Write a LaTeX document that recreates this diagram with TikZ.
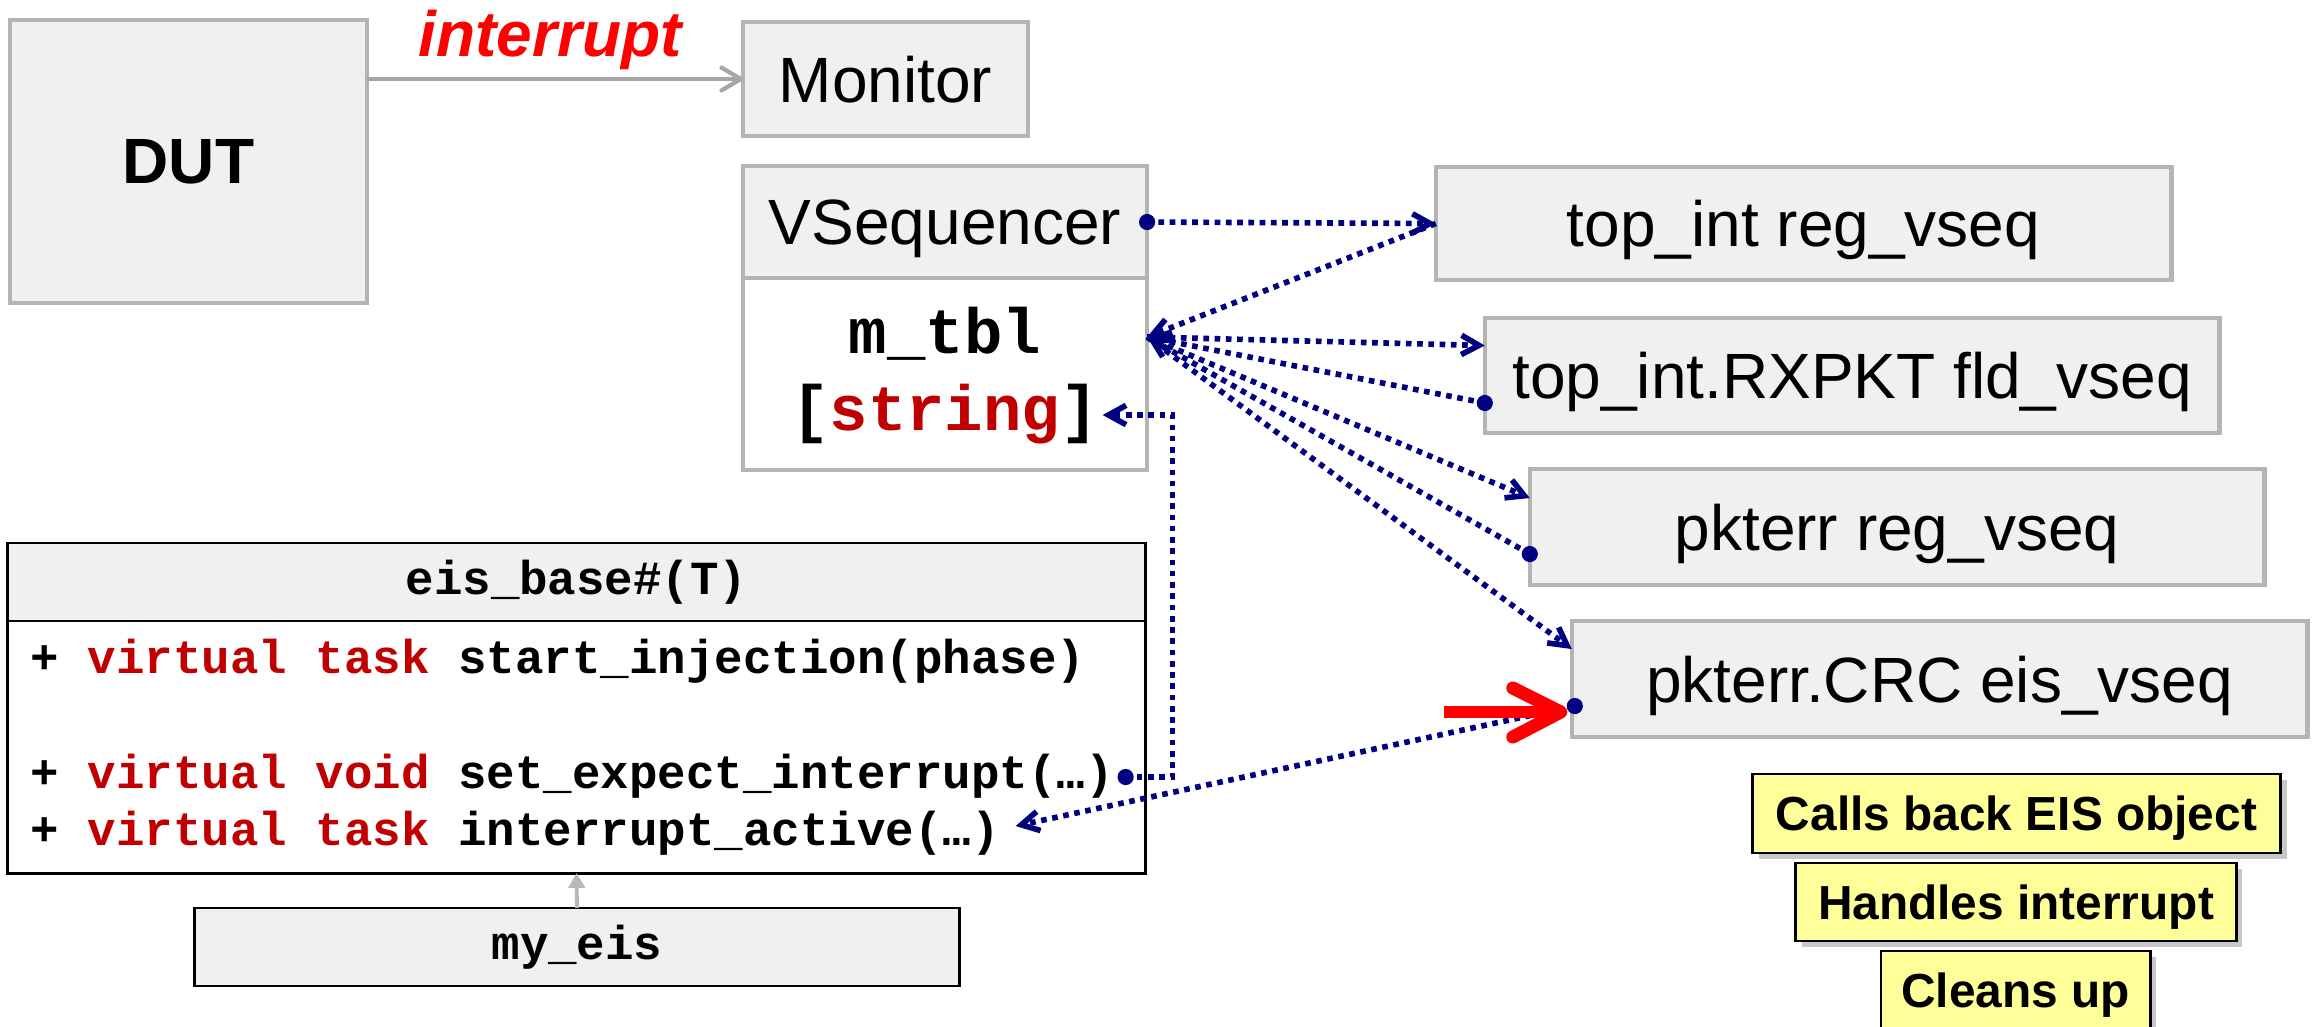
\documentclass[tikz,border=0pt]{standalone}
\usepackage{fontspec}
\setmainfont{Liberation Sans}
\setmonofont{Liberation Mono}
\usetikzlibrary{arrows.meta,calc,shadows}

\definecolor{boxgray}{HTML}{B4B4B4}
\definecolor{boxfill}{HTML}{F0F0F0}
\definecolor{linknavy}{HTML}{000080}
\definecolor{kwred}{HTML}{C00000}
\definecolor{notefill}{HTML}{FFFF99}
\definecolor{wiregray}{HTML}{A6A6A6}
\definecolor{inhgray}{HTML}{B8B8B8}

\newcommand{\kw}[1]{\textcolor{kwred}{#1}}
\newcommand{\lblsize}{\fontsize{18.2}{22}\selectfont}
\newcommand{\codesize}{\fontsize{13.5}{16}\selectfont}
\newcommand{\notesize}{\fontsize{13.6}{16}\selectfont}

\begin{document}
\begin{tikzpicture}[x=0.01cm, y=-0.01cm,
  every node/.style={inner sep=0pt, outer sep=0pt},
  block/.style={draw=boxgray, line width=1.3pt, fill=boxfill, font=\lblsize, text depth=0pt},
  uml/.style={draw=black, line width=0.8pt},
  code/.style={font=\ttfamily\bfseries\codesize, anchor=base west},
  note/.style={draw=black, line width=0.8pt, fill=notefill, font=\bfseries\notesize, text depth=0pt,
    drop shadow={shadow xshift=1.8pt, shadow yshift=-1.8pt, fill=black, opacity=0.22}},
  link/.style={linknavy, line width=1.6pt, dash pattern=on 1.6pt off 1.6pt,
    -{Straight Barb[length=5pt,width=5.5pt]}},
  navydot/.style={fill=linknavy}
]
\useasboundingbox (0,0) rectangle (2312,1026);

% design under test and the monitor it signals
\node[block, minimum width=3.57cm, minimum height=2.83cm, font=\bfseries\lblsize] (dut) at (188.5,161.5) {DUT};
\node[block, minimum width=2.85cm, minimum height=1.14cm] (monitor) at (885.5,79) {Monitor};
\node[font=\bfseries\itshape\lblsize, text=red, anchor=base] (irqlabel) at (550,56) {interrupt};
\draw[wiregray, line width=1.2pt, -{Straight Barb[length=5.5pt,width=6.5pt,round]}]
  (dut.east |- monitor.west) -- (monitor.west);

% virtual sequencer with its lookup table
\node[block, minimum width=4.04cm, minimum height=1.12cm] (vhead) at (945,222) {VSequencer};
\node[block, fill=white, minimum width=4.04cm, minimum height=1.92cm] (vbody) at (945,374) {};
\node[font=\ttfamily\bfseries\lblsize, anchor=base] (tblname) at (945,353) {m\_tbl};
\node[font=\ttfamily\bfseries\lblsize, anchor=base] (tblkey) at (945,430) {[\kw{string}]};

% registered sequences
\node[block, minimum width=7.35cm, minimum height=1.13cm] (regtop) at (1803.5,223.5) {top\_int reg\_vseq};
\node[block, minimum width=7.34cm, minimum height=1.15cm] (fldrx) at (1852,375.5) {top\_int.RXPKT fld\_vseq};
\node[block, minimum width=7.34cm, minimum height=1.16cm] (regpkt) at (1897,527) {pkterr reg\_vseq};
\node[block, minimum width=7.35cm, minimum height=1.16cm] (eiscrc) at (1939.5,679) {pkterr.CRC eis\_vseq};

% EIS base class and its subclass
\node[uml, fill=boxfill, minimum width=11.37cm, minimum height=0.78cm, font=\ttfamily\bfseries\codesize] (uhead) at (576.5,582) {eis\_base\#(T)};
\node[uml, fill=white, minimum width=11.37cm, minimum height=2.52cm] (ubody) at (576.5,747) {};
\node[code] (ln1) at (31,673) {+ \kw{virtual task} start\_injection(phase)};
\node[code] (ln2) at (31,788) {+ \kw{virtual void} set\_expect\_interrupt(…)};
\node[code] (ln3) at (31,845) {+ \kw{virtual task} interrupt\_active(…)};
\node[uml, fill=boxfill, minimum width=7.64cm, minimum height=0.78cm, font=\ttfamily\bfseries\codesize] (myeis) at (577,947) {my\_eis};
\draw[inhgray, line width=1.1pt, -{Triangle[length=4.2pt,width=4.6pt]}] (myeis.north) -- (ubody.south);

% callback steps
\node[note, minimum width=5.27cm, minimum height=0.79cm] (step1) at (2016.5,813.5) {Calls back EIS object};
\node[note, minimum width=4.40cm, minimum height=0.78cm] (step2) at (2016,902) {Handles interrupt};
\node[note, minimum width=2.69cm, minimum height=0.78cm] (step3) at (2015.5,990) {Cleans up};

% connection points
\coordinate (tblR) at ($(vbody.east)+(0,-37)$);
\coordinate (rxin) at ($(fldrx.west)+(0,-30)$);
\coordinate (rxout) at ($(fldrx.west)+(0,27.5)$);
\coordinate (pktin) at ($(regpkt.west)+(0,-29)$);
\coordinate (pktout) at ($(regpkt.west)+(0,27)$);
\coordinate (crcin) at ($(eiscrc.west)+(0,-30)$);
\coordinate (crcout) at ($(eiscrc.west)+(3,27)$);
\coordinate (setdot) at ($(ln2.base east)+(12,-11)$);
\coordinate (acttip) at ($(ln3.base east)+(16,-19)$);
\coordinate (keytip) at ($(tblkey.base east)+(4,-15)$);

% table lookups and returns
\draw[link] (vhead.east) -- (regtop.west);
\draw[link] (regtop.west) -- (tblR);
\draw[link] (tblR) -- (rxin);
\draw[link] (rxout) -- (tblR);
\draw[link] (tblR) -- (pktin);
\draw[link] (pktout) -- (tblR);
\draw[link] (tblR) -- (crcin);
\draw[link] (crcout) -- (acttip);
\draw[link] (setdot) -| ($(keytip)+(70,0)$) -- (keytip);

\fill[navydot] (vhead.east) circle[radius=2.3pt];
\fill[navydot] (rxout) circle[radius=2.3pt];
\fill[navydot] (pktout) circle[radius=2.3pt];
\fill[navydot] (crcout) circle[radius=2.3pt];
\fill[navydot] (setdot) circle[radius=2.3pt];

% current step marker
\coordinate (redtip) at ($(eiscrc.west)+(-11,33)$);
\draw[red, line width=3.4pt] ($(redtip)+(-117,0)$) -- ($(redtip)+(-6,0)$);
\draw[red, line width=3.7pt, line cap=round, line join=round]
  ($(redtip)+(-48,-24)$) -- (redtip) -- ($(redtip)+(-48,25)$);
\end{tikzpicture}
\end{document}
